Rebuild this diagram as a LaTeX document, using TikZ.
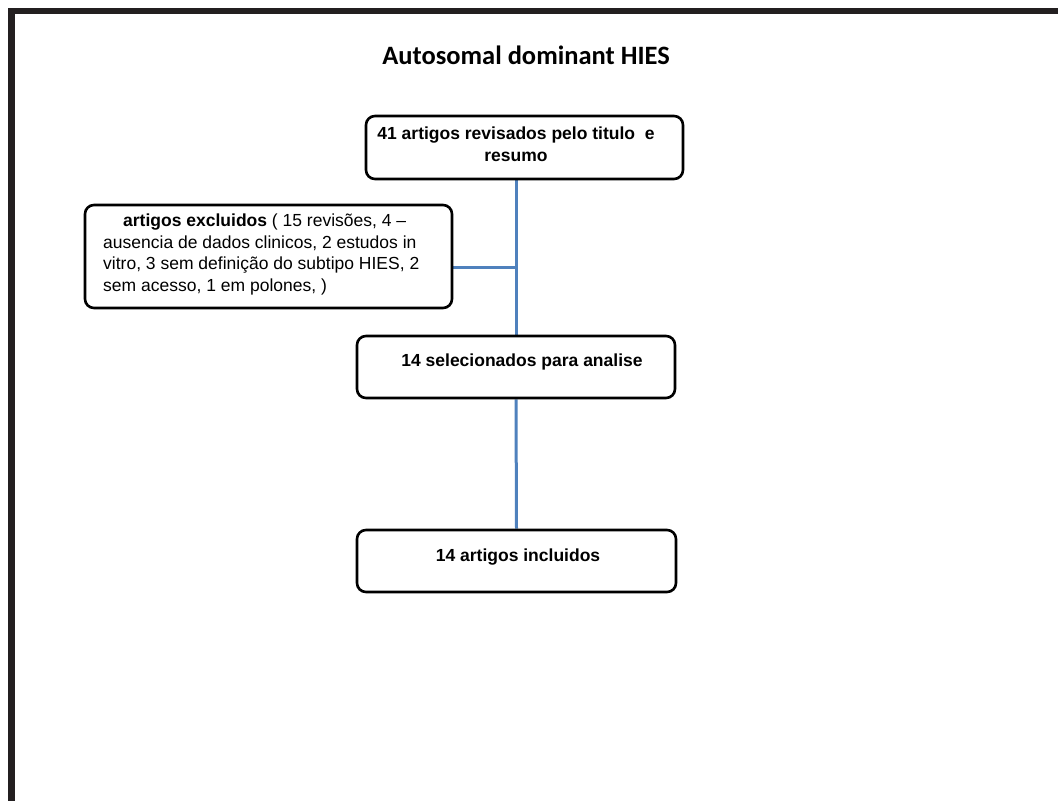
\documentclass[tikz,border=0pt]{standalone}
\usepackage{fontspec}
\setmainfont{Liberation Sans}
\newfontfamily\titlefont{Carlito}
\usetikzlibrary{calc,backgrounds}
\definecolor{frame}{HTML}{231F20}
\definecolor{linkblue}{HTML}{4F81BD}
\begin{document}
\begin{tikzpicture}[x=1pt,y=-1pt,
  stagebox/.style={draw=black,fill=white,line width=2.6pt,rounded corners=9pt,
    inner sep=0pt,minimum width=#1,minimum height=62pt},
  stagebox/.default=318pt,
  boxtext/.style={inner sep=0pt,font=\fontsize{17.5}{22}\selectfont\bfseries,align=center},
  link/.style={draw=linkblue,line width=3pt}]
\useasboundingbox (0,0) rectangle (1058,801);
% page frame: top and left rules
\fill[frame] (8,8) rectangle (1058,14);
\fill[frame] (8,8) rectangle (15,801);

% title
\node[font=\titlefont\fontsize{26.5}{30}\selectfont\bfseries] (title) at (526,55) {Autosomal dominant HIES};

% boxes
\node[stagebox=317pt,minimum height=63pt] (rev) at (524.5,147.5) {};
\node[stagebox=367pt,minimum height=103pt] (exc) at (268.5,256.5) {};
\node[stagebox=318pt] (sel) at (516,367) {};
\node[stagebox=319pt] (inc) at (516.5,561) {};

% connectors, kept behind the boxes
\coordinate (join) at (516,267);
\begin{scope}[on background layer]
\draw[link] (sel.north |- rev.south) -- (sel.north);
\draw[link] (sel.south) -- (inc.north);
\draw[link] ([xshift=-6pt]exc.east |- join) -- (join);
\end{scope}

% box texts
\node[boxtext] (revtxt) at (516,144) {41 artigos revisados pelo titulo\ \ e\\resumo};
\node[boxtext] (seltxt) at (522,362) {14 selecionados para analise};
\node[boxtext] (inctxt) at (518,557) {14 artigos incluidos};
\node[inner sep=0pt,anchor=north west,align=left,
  font=\fontsize{17.5}{21.5}\selectfont] (exctxt) at (103,214)
  {\hspace*{20pt}\textbf{artigos excluidos} ( 15 revisões, 4 –\\
   ausencia de dados clinicos, 2 estudos in\\
   vitro, 3 sem definição do subtipo HIES, 2\\
   sem acesso, 1 em polones, )};
\end{tikzpicture}
\end{document}
